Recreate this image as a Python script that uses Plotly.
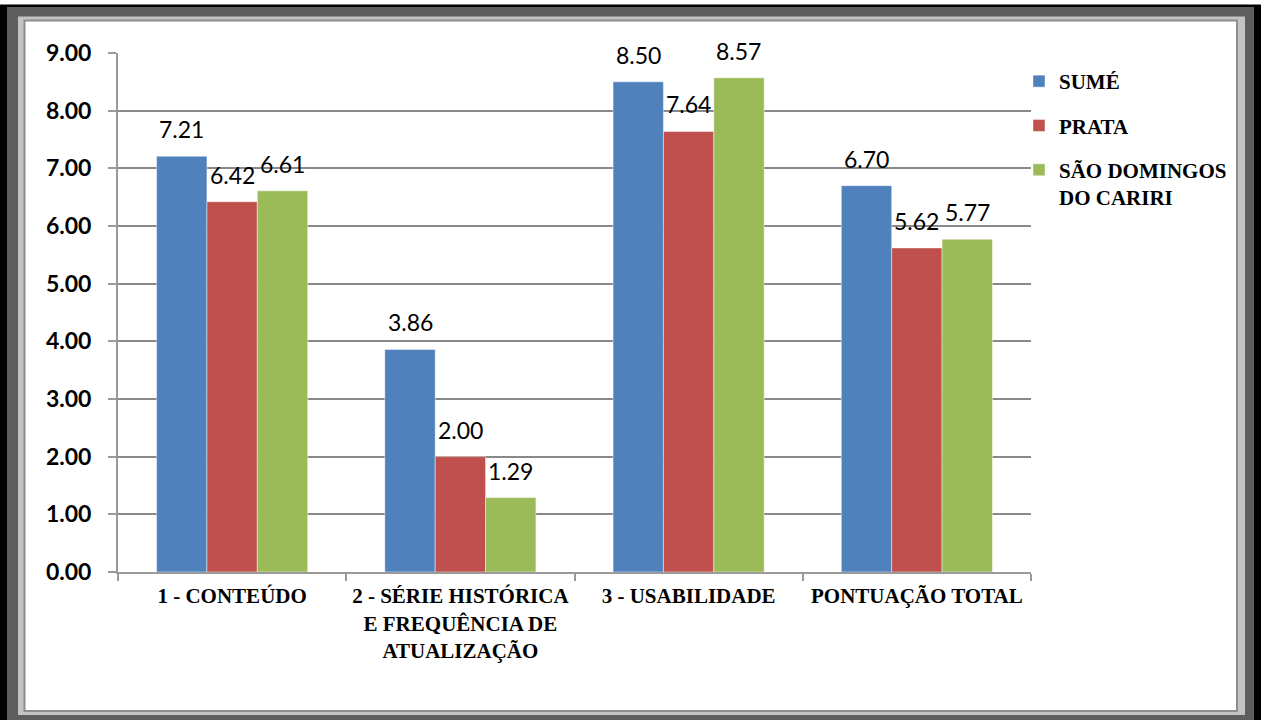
import plotly.graph_objects as go

categories = ["1 - CONTEÚDO", "2 - SÉRIE HISTÓRICA<br>E FREQUÊNCIA DE<br>ATUALIZAÇÃO",
              "3 - USABILIDADE", "PONTUAÇÃO TOTAL"]
series_names = ["SUMÉ", "PRATA", "SÃO DOMINGOS<br>DO CARIRI"]
sume = [7.21, 3.86, 8.50, 6.70]
prata = [6.42, 2.00, 7.64, 5.62]
sao_domingos = [6.61, 1.29, 8.57, 5.77]
series_values = [sume, prata, sao_domingos]
colors = ["#4F81BD", "#C0504D", "#9BBB59"]
y_ticks = [0, 1, 2, 3, 4, 5, 6, 7, 8, 9]

W, H = 1261, 720
L, R, T, B = 118, 230, 53, 148
PW, PH = W - L - R, H - T - B
BARGAP = 0.338

def px(x):
    return (x - L) / PW

def py(y):
    return (H - B - y) / PH

fig = go.Figure()
for name, vals, col in zip(series_names, series_values, colors):
    fig.add_trace(go.Bar(
        x=categories, y=vals, name=name, legendgroup=name,
        marker=dict(color=col, line=dict(color="rgba(255,255,255,0.45)", width=1)),
    ))

# data labels
bw = (1 - BARGAP) / len(series_values)
annotations = []
for j, vals in enumerate(series_values):
    for i, v in enumerate(vals):
        annotations.append(dict(
            x=i + (j - 1) * bw, y=v, xref="x", yref="y",
            text=f"{v:.2f}", showarrow=False, yanchor="middle", yshift=27,
            font=dict(family="Lato", size=23, color="#000000"),
        ))

shapes = [
    dict(type="rect", xref="paper", yref="paper", x0=px(0), x1=px(W), y0=py(H + 5), y1=py(4.5),
         fillcolor="#000000", line=dict(width=0), layer="below"),
    dict(type="rect", xref="paper", yref="paper", x0=px(7), x1=px(1254), y0=py(H + 5), y1=py(7),
         fillcolor="#5e5e5e", line=dict(width=0), layer="below"),
    dict(type="rect", xref="paper", yref="paper", x0=px(18), x1=px(1245), y0=py(715), y1=py(16.5),
         fillcolor="#c3c3c3", line=dict(width=0), layer="below"),
    dict(type="rect", xref="paper", yref="paper", x0=px(24.5), x1=px(1237), y0=py(711), y1=py(20.5),
         fillcolor="#ffffff", line=dict(color="#8d8d8d", width=2), layer="below"),
]

fig.update_layout(
    width=W, height=H,
    margin=dict(l=L, r=R, t=T, b=B, pad=0),
    paper_bgcolor="#ffffff", plot_bgcolor="#ffffff",
    barmode="group", bargap=BARGAP, bargroupgap=0,
    showlegend=True,
    legend=dict(
        x=px(1019), y=py(61), xanchor="left", yanchor="top",
        font=dict(family="Liberation Serif", size=21, color="#000000", weight="bold"),
        valign="top", tracegroupgap=14, bgcolor="rgba(0,0,0,0)",
    ),
    annotations=annotations,
    shapes=shapes,
    font=dict(family="Liberation Serif"),
)
fig.update_xaxes(
    type="category", showgrid=False, showline=True, linecolor="#9a9a9a", linewidth=2,
    ticks="outside", tickson="boundaries", ticklen=7, tickcolor="#9a9a9a", tickwidth=2,
    tickfont=dict(family="Liberation Serif", size=21, color="#000000", weight="bold"),
    ticklabelstandoff=4,
)
fig.update_yaxes(
    range=[0, 9], tickvals=y_ticks, ticktext=[f"{v:.2f}" for v in y_ticks],
    showgrid=True, gridcolor="#898989", gridwidth=2, zeroline=False,
    showline=True, linecolor="#9a9a9a", linewidth=2,
    ticks="outside", ticklen=8, tickcolor="#9a9a9a", tickwidth=2,
    tickfont=dict(family="Lato", size=23, color="#000000", weight="bold"),
    ticklabelstandoff=12,
)

fig.write_html("out.html")
